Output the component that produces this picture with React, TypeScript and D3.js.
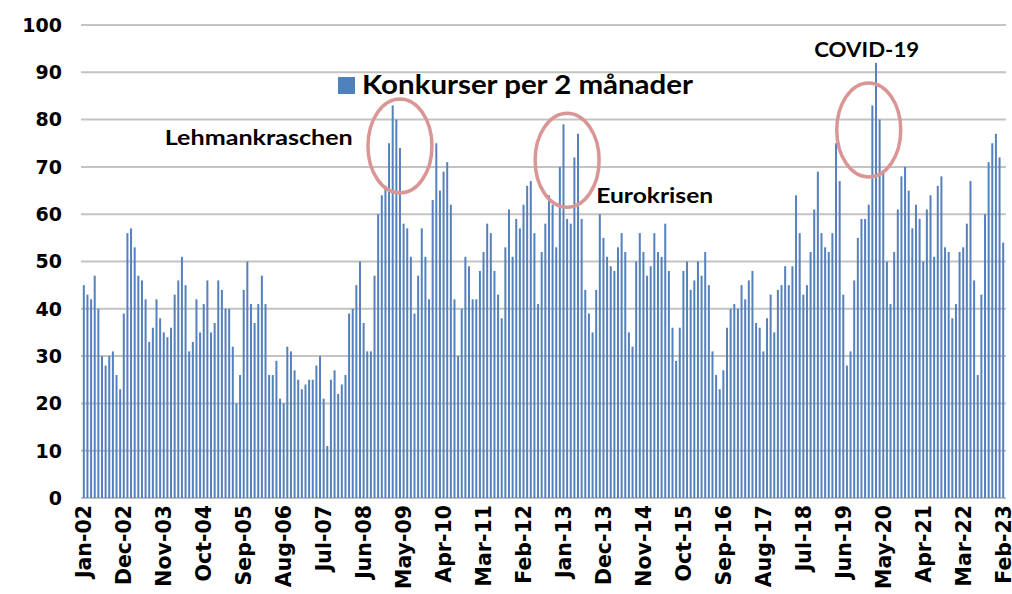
import React from "react";
import * as d3 from "d3";

const values: number[] = [
  45,43,42,47,40,30,28,30,31,26,23,39,56,57,53,47,46,42,33,36,42,38,35,
  34,36,43,46,51,45,31,33,42,35,41,46,35,37,46,44,40,40,32,20,26,44,50,
  41,37,41,47,41,26,26,29,21,20,32,31,27,25,23,24,25,25,28,30,21,11,25,
  27,22,24,26,39,40,45,50,37,31,31,47,60,64,66,75,83,80,74,58,57,51,39,
  47,57,51,42,63,75,65,69,71,62,42,30,40,51,49,42,42,48,52,58,56,48,43,38,
  53,61,51,59,57,62,66,67,56,41,52,58,64,62,53,70,79,59,58,72,77,59,44,
  39,35,44,60,55,51,49,48,53,56,52,35,32,50,56,52,47,49,56,52,51,58,48,
  36,29,36,48,50,44,46,50,47,52,45,31,26,23,27,36,40,41,40,45,42,46,48,
  37,36,31,38,43,35,44,45,49,45,49,64,56,43,45,52,61,69,56,53,52,56,75,
  67,43,28,31,46,55,59,59,62,83,92,80,69,50,41,52,61,68,70,65,57,62,59,
  50,61,64,51,66,68,53,52,38,41,52,53,58,67,46,26,43,60,71,75,77,72,54,
];

const monthNames = ["Jan","Feb","Mar","Apr","May","Jun","Jul","Aug","Sep","Oct","Nov","Dec"];
const categories: string[] = values.map((_, i) => {
  const m = i % 12;
  const y = 2 + Math.floor(i / 12);
  return `${monthNames[m]}-${String(y).padStart(2, "0")}`;
});

const tickLabels: string[] = [
  "Jan-02","Dec-02","Nov-03","Oct-04","Sep-05","Aug-06","Jul-07","Jun-08",
  "May-09","Apr-10","Mar-11","Feb-12","Jan-13","Dec-13","Nov-14","Oct-15",
  "Sep-16","Aug-17","Jul-18","Jun-19","May-20","Apr-21","Mar-22","Feb-23",
];
const yTicks: number[] = [0,10,20,30,40,50,60,70,80,90,100];

const seriesName = "Konkurser per 2 månader";

const annotations = [
  { text: "Lehmankraschen", month: "Mar-08", value: 74.6, anchor: "end", width: 188 },
  { text: "Eurokrisen", month: "Oct-13", value: 62.4, anchor: "start", width: 117 },
  { text: "COVID-19", month: "Oct-18", value: 93.3, anchor: "start", width: 105 },
];

const circles = [
  { month: "Apr-09", value: 74.4 },
  { month: "Feb-13", value: 71.4 },
  { month: "Jan-20", value: 77.8 },
];

export default function App() {
  const W = 1012, H = 594;
  const x = d3.scaleBand<string>().domain(categories).range([82, 1005]).paddingInner(0.45).paddingOuter(0.225);
  const y = d3.scaleLinear().domain([0, 100]).range([498, 25]);
  const cx = (c: string) => (x(c) ?? 0) + x.bandwidth() / 2;

  return (
    <svg width={W} height={H} style={{ position: "absolute", left: 0, top: 0, background: "#fff" }}>
      {yTicks.map((t) => (
        <line key={"g" + t} x1={81} x2={1006} y1={y(t)} y2={y(t)} stroke="#c3c3c3" strokeWidth={2} />
      ))}
      {values.map((v, i) => (
        <rect key={i} x={x(categories[i])} y={y(v)} width={x.bandwidth()} height={y(0) - y(v)} fill="#5581bd" />
      ))}
      {yTicks.map((t) => (
        <text key={"y" + t} x={62} y={y(t)} dy="0.36em" textAnchor="end"
          fontFamily="DejaVu Sans" fontWeight="bold" fontSize={19} fill="#000">{t}</text>
      ))}
      {tickLabels.map((l) => (
        <text key={l} transform={`translate(${cx(l) + 7.5},505) rotate(-90)`} textAnchor="end"
          fontFamily="DejaVu Sans" fontWeight="bold" fontSize={20.5} fill="#000">{l}</text>
      ))}
      <rect x={338} y={77} width={17} height={17} fill="#4f81bd" />
      <text x={362} y={94} fontFamily="Lato" fontWeight="bold" fontSize={27} fill="#000"
        textLength={331} lengthAdjust="spacingAndGlyphs">{seriesName}</text>
      {annotations.map((a) => (
        <text key={a.text} x={cx(a.month)} y={y(a.value)} textAnchor={a.anchor} fontFamily="Lato" fontWeight="bold" fontSize={21}
          fill="#000" textLength={a.width} lengthAdjust="spacingAndGlyphs">{a.text}</text>
      ))}
      {circles.map((c) => (
        <ellipse key={c.month} cx={cx(c.month)} cy={y(c.value)} rx={32} ry={47}
          fill="none" stroke="#d99694" strokeWidth={3.5} />
      ))}
    </svg>
  );
}
